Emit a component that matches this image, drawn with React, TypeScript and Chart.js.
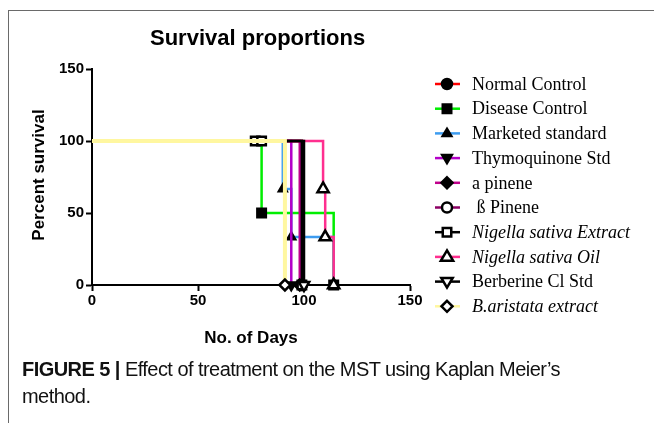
import React, { useEffect, useRef } from 'react';
import { Chart, registerables } from 'chart.js';

Chart.register(...registerables);

// ---------- data ----------
const groupNames = [
  'Normal Control',
  'Disease Control',
  'Marketed standard',
  'Thymoquinone Std',
  'a pinene',
  ' ß Pinene',
  'Nigella sativa Extract',
  'Nigella sativa Oil',
  'Berberine Cl Std',
  'B.aristata extract',
];

const normalDays = [0, 99];
const normalSurv = [100, 0];
const diseaseDays = [0, 80, 114];
const diseaseSurv = [100, 50, 0];
const marketedDays = [0, 90, 94, 114];
const marketedSurv = [100, 66.7, 33.3, 0];
const thymoDays = [0, 94];
const thymoSurv = [100, 0];
const aPineneDays = [0, 98];
const aPineneSurv = [100, 0];
const bPineneDays = [0, 99];
const bPineneSurv = [100, 0];
const nsExtractDays = [0, 77, 80, 99];
const nsExtractSurv = [100, 100, 100, 0];
const nsOilDays = [0, 109, 110, 114];
const nsOilSurv = [100, 66.7, 33.3, 0];
const berberineDays = [0, 100];
const berberineSurv = [100, 0];
const baristataDays = [0, 91];
const baristataSurv = [100, 0];

const xTickValues = [0, 50, 100, 150];
const yTickValues = [0, 50, 100, 150];

const allDays = [normalDays, diseaseDays, marketedDays, thymoDays, aPineneDays, bPineneDays, nsExtractDays, nsOilDays, berberineDays, baristataDays];
const allSurv = [normalSurv, diseaseSurv, marketedSurv, thymoSurv, aPineneSurv, bPineneSurv, nsExtractSurv, nsOilSurv, berberineSurv, baristataSurv];

// ---------- styles ----------
const lineColors = ['#ff0000', '#00ee00', '#3d9cf0', '#b400c8', '#c0008c', '#8c0064', '#000000', '#ff2f8f', '#000000', '#fff7a0'];
const lineWidths = [2.5, 2.5, 2.5, 2.5, 2.5, 2.5, 2.5, 2.5, 2.5, 4];
const markerStyles = ['circle', 'rect', 'triangle', 'triangle', 'rectRot', 'circle', 'rect', 'triangle', 'triangle', 'rectRot'];
const markerRot = [0, 0, 0, 180, 0, 0, 0, 0, 180, 0];
const markerOpen = [false, false, false, false, false, true, true, true, true, true];
const markerRadius = [5, 6, 4.5, 5, 5.5, 5, 6, 6.5, 6, 5.5];
const italic = [false, false, false, false, false, false, true, true, false, true];
const drawOrder = [5, 9, 8, 6, 4, 3, 2, 7, 1, 0];

function drawMarker(ctx: CanvasRenderingContext2D, style: string, x: number, y: number, r: number, rot: number, open: boolean) {
  ctx.save();
  ctx.translate(x, y);
  ctx.rotate((rot * Math.PI) / 180);
  ctx.beginPath();
  if (style === 'circle') {
    ctx.arc(0, 0, r, 0, Math.PI * 2);
  } else if (style === 'rect') {
    const s = r * Math.SQRT1_2;
    ctx.rect(-s, -s, 2 * s, 2 * s);
  } else if (style === 'rectRot') {
    ctx.moveTo(0, -r);
    ctx.lineTo(r, 0);
    ctx.lineTo(0, r);
    ctx.lineTo(-r, 0);
    ctx.closePath();
  } else if (style === 'triangle') {
    ctx.moveTo(0, -r);
    ctx.lineTo(r * 0.95, r * 0.6);
    ctx.lineTo(-r * 0.95, r * 0.6);
    ctx.closePath();
  }
  ctx.fillStyle = open ? '#ffffff' : '#000000';
  ctx.fill();
  ctx.lineWidth = 2.5;
  ctx.strokeStyle = '#000000';
  ctx.stroke();
  ctx.restore();
}

const overlayPlugin = {
  id: 'overlayTexts',
  afterDraw(chart: any) {
    const ctx: CanvasRenderingContext2D = chart.ctx;
    ctx.save();
    ctx.fillStyle = '#000';
    // title
    ctx.font = 'bold 22px "Liberation Sans", Arial, sans-serif';
    ctx.textAlign = 'left';
    ctx.textBaseline = 'alphabetic';
    ctx.fillText('Survival proportions', 150, 45);
    // axis titles
    ctx.font = 'bold 17px "Liberation Sans", Arial, sans-serif';
    ctx.textAlign = 'center';
    ctx.textBaseline = 'middle';
    const area = chart.chartArea;
    ctx.fillText('No. of Days', (area.left + area.right) / 2, 338);
    ctx.save();
    ctx.translate(39, (area.top + area.bottom) / 2 - 2);
    ctx.rotate(-Math.PI / 2);
    ctx.fillText('Percent survival', 0, 0);
    ctx.restore();
    // legend
    const y0 = 84;
    const step = 24.7;
    for (let i = 0; i < groupNames.length; i++) {
      const y = y0 + i * step;
      ctx.beginPath();
      ctx.moveTo(435, y);
      ctx.lineTo(460, y);
      ctx.strokeStyle = lineColors[i];
      ctx.lineWidth = 2.5;
      ctx.stroke();
      drawMarker(ctx, markerStyles[i], 447, y, markerRadius[i], markerRot[i], markerOpen[i]);
      ctx.fillStyle = '#000';
      ctx.font = (italic[i] ? 'italic ' : '') + '18px "Liberation Serif", "Times New Roman", serif';
      ctx.textAlign = 'left';
      ctx.textBaseline = 'middle';
      ctx.fillText(groupNames[i], 472, y + 1);
    }
    ctx.restore();
  },
};

export default function App() {
  const ref = useRef<HTMLCanvasElement | null>(null);
  useEffect(() => {
    if (!ref.current) return;
    const datasets = groupNames.map((name, i) => ({
      label: name,
      data: allDays[i].map((d, j) => ({ x: d, y: allSurv[i][j] })),
      stepped: 'before' as const,
      borderColor: lineColors[i],
      borderWidth: lineWidths[i],
      backgroundColor: markerOpen[i] ? '#ffffff' : '#000000',
      pointStyle: markerStyles[i],
      pointRotation: markerRot[i],
      pointBackgroundColor: markerOpen[i] ? '#ffffff' : '#000000',
      pointBorderColor: '#000000',
      pointBorderWidth: 2.5,
      pointRadius: (c: any) => (c.dataIndex === 0 ? 0 : markerRadius[i]),
      pointHoverRadius: 0,
      fill: false,
      clip: false as const,
      order: drawOrder[i],
    }));
    const tickFont = { family: '"Liberation Sans", Arial, sans-serif', size: 15, weight: 'bold' as const };
    const chart = new Chart(ref.current, {
      type: 'line',
      data: { datasets },
      plugins: [overlayPlugin],
      options: {
        animation: false,
        responsive: false,
        maintainAspectRatio: false,
        layout: { padding: { left: 0, top: 69, right: 244, bottom: 0 } },
        plugins: { legend: { display: false }, tooltip: { enabled: false }, title: { display: false } },
        scales: {
          x: {
            type: 'linear',
            min: 0,
            max: 150,
            afterBuildTicks: (s: any) => { s.ticks = xTickValues.map((v) => ({ value: v })); },
            afterFit: (s: any) => { s.height = 360 - 285; },
            ticks: { font: tickFont, color: '#000', padding: 1, maxRotation: 0 },
            grid: { display: true, drawOnChartArea: false, drawTicks: true, tickLength: 6, tickColor: '#000', tickWidth: 2 },
            border: { display: true, color: '#000', width: 2 },
          },
          y: {
            type: 'linear',
            min: 0,
            max: 150,
            afterBuildTicks: (s: any) => { s.ticks = yTickValues.map((v) => ({ value: v })); },
            afterFit: (s: any) => { s.width = 92; },
            ticks: { font: tickFont, color: '#000', padding: 2 },
            grid: { display: true, drawOnChartArea: false, drawTicks: true, tickLength: 6, tickColor: '#000', tickWidth: 2 },
            border: { display: true, color: '#000', width: 2 },
          },
        },
      },
    });
    return () => chart.destroy();
  }, []);

  return (
    <div style={{ position: 'absolute', left: 0, top: 0, width: 654, height: 423, background: '#fff', overflow: 'hidden' }}>
      <div style={{ position: 'absolute', left: 8, top: 10, right: 0, bottom: 0, borderTop: '1.5px solid #6a6a6a', borderLeft: '1.5px solid #6a6a6a' }} />
      <canvas ref={ref} width={654} height={360} style={{ position: 'absolute', left: 0, top: 0, width: 654, height: 360 }} />
      <div
        style={{
          position: 'absolute',
          left: 22,
          top: 356,
          width: 620,
          fontFamily: '"Liberation Sans", Arial, sans-serif',
          fontSize: 20,
          lineHeight: '27px',
          letterSpacing: '-0.55px',
          color: '#111',
        }}
      >
        <b>FIGURE 5 |</b> Effect of treatment on the MST using Kaplan Meier’s
        <br />
        method.
      </div>
    </div>
  );
}
